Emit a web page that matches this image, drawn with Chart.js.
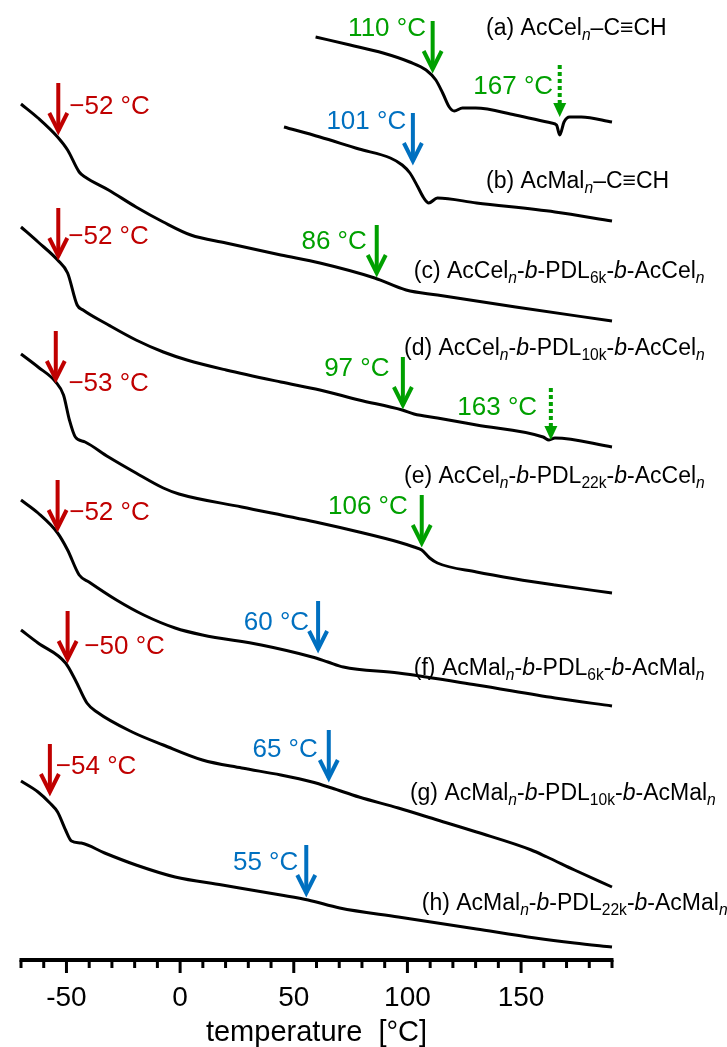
<!DOCTYPE html>
<html>
<head>
<meta charset="utf-8">
<title>DSC traces</title>
<script src="https://cdn.jsdelivr.net/npm/chart.js@4.4.1/dist/chart.umd.min.js"></script>
<style>
  html, body { margin: 0; padding: 0; background: #fff; }
  #dsc { display: block; }
</style>
</head>
<body>
<canvas id="dsc" width="727" height="1047"></canvas>
<script>
'use strict';

// ── Traces: temperature [°C] vs. heat flow (arb. units, stacked offsets) ──
const tempA = [59.6, 74.8, 89.3, 101.0, 108.2, 112.5, 115.5, 118.4, 120.6, 124.2, 130.0, 147.4, 163.4, 165.6, 167.0, 168.9, 171.4, 176.5, 190];
const heatA = [92.3, 91.5, 90.7, 89.8, 89.0, 88.0, 86.7, 85.3, 84.9, 85.2, 85.2, 84.5, 83.7, 83.5, 82.5, 83.8, 84.3, 84.3, 83.8];

const tempB = [45.7, 61.5, 78.7, 92.5, 97.7, 101.1, 104.6, 107.2, 109.4, 113.2, 130.4, 164.9, 190];
const heatB = [83.3, 82.3, 81.1, 80.2, 79.5, 78.7, 77.3, 76.2, 75.7, 76.2, 75.7, 74.8, 73.9];

const tempC = [-70, -62.5, -53.9, -49.5, -44.4, -41.8, -31.5, -19.4, -7.4, 4.7, 20.2, 44.3, 61.5, 85.6, 99.4, 113.2, 147.6, 190];
const heatC = [85.6, 84.2, 82.3, 81.0, 78.8, 78.3, 77.0, 75.3, 73.8, 72.5, 71.7, 70.5, 69.7, 68.2, 67.0, 66.5, 65.3, 63.9];

const tempD = [-70, -62.5, -53.9, -49.5, -45.3, -42.7, -31.5, -19.4, -7.4, 3.0, 20.2, 44.3, 61.5, 78.7, 97.7, 102.9, 113.2, 130.4, 159.7, 162.3, 164.9, 190];
const heatD = [73.3, 71.8, 70.0, 68.7, 65.5, 65.0, 63.5, 62.0, 60.8, 60.0, 59.0, 57.8, 57.0, 56.0, 55.0, 54.6, 54.2, 53.5, 52.3, 52.0, 52.2, 51.3];

const tempE = [-70, -62.5, -54.7, -51.3, -48.7, -46.1, -41.8, -31.5, -19.4, -7.4, -0.5, 27.1, 61.5, 78.7, 96.0, 102.9, 106.3, 109.8, 113.2, 130.4, 147.6, 164.9, 190];
const heatE = [60.6, 59.3, 57.8, 56.5, 54.0, 52.3, 51.8, 50.3, 48.7, 47.2, 46.6, 45.3, 43.7, 42.8, 41.8, 41.3, 41.0, 40.2, 39.7, 38.8, 38.1, 37.5, 36.7];

const tempF = [-70, -62.5, -53.9, -49.5, -44.4, -40.1, -28.0, -16.0, -2.2, 9.8, 35.7, 58.1, 65.0, 71.8, 96.0, 130.4, 164.9, 190];
const heatF = [46.0, 44.7, 42.7, 41.0, 38.5, 37.8, 36.0, 34.5, 33.2, 32.5, 31.5, 30.3, 29.8, 29.3, 28.7, 27.5, 26.2, 25.4];

const tempG = [-70, -62.5, -50.4, -46.1, -41.0, -36.6, -21.1, -7.4, 9.8, 27.1, 44.3, 58.1, 66.7, 78.7, 96.0, 113.2, 130.4, 154.5, 161.4, 173.5, 190];
const heatG = [33.0, 31.7, 29.7, 28.0, 25.7, 24.8, 22.8, 21.5, 20.0, 19.2, 18.5, 17.8, 17.2, 16.3, 15.2, 14.0, 12.8, 11.0, 10.3, 9.0, 7.3];

const tempH = [-70, -62.5, -57.3, -53.9, -50.4, -47.8, -43.5, -33.2, -19.4, -2.2, 18.5, 44.3, 56.3, 70.2, 96.0, 130.4, 156.2, 173.5, 190];
const heatH = [17.9, 16.8, 15.7, 14.8, 13.0, 11.9, 11.7, 10.7, 9.5, 8.3, 7.5, 6.5, 6.0, 5.2, 4.3, 3.1, 2.2, 1.7, 1.3];

// {x} = italic subscript, *x* = italic, [x] = subscript
const seriesNames = [
  '(a) AcCel{n}–C≡CH',
  '(b) AcMal{n}–C≡CH',
  '(c) AcCel{n}-*b*-PDL[6k]-*b*-AcCel{n}',
  '(d) AcCel{n}-*b*-PDL[10k]-*b*-AcCel{n}',
  '(e) AcCel{n}-*b*-PDL[22k]-*b*-AcCel{n}',
  '(f) AcMal{n}-*b*-PDL[6k]-*b*-AcMal{n}',
  '(g) AcMal{n}-*b*-PDL[10k]-*b*-AcMal{n}',
  '(h) AcMal{n}-*b*-PDL[22k]-*b*-AcMal{n}',
];

// ── Transition markers (arrow at temperature, tip on trace) ──
const markerTemps  = [-53.6, -53.6, -54.7, -53.9, -49.5, -57.3, 111.1, 167.0, 102.4, 86.5, 98.0, 163.1, 106.3, 60.7, 65.4, 55.5];
const markerTips   = [82.5, 70.0, 57.7, 42.8, 29.7, 16.4, 88.7, 84.3, 79.5, 68.3, 55.1, 52.0, 41.3, 30.7, 17.8, 6.3];
const markerTexts  = ['−52 °C', '−52 °C', '−53 °C', '−52 °C', '−50 °C', '−54 °C', '110 °C', '167 °C', '101 °C',
                      '86 °C', '97 °C', '163 °C', '106 °C', '60 °C', '65 °C', '55 °C'];
const markerKinds  = ['red', 'red', 'red', 'red', 'red', 'red', 'green', 'green', 'blue',
                      'green', 'green', 'green', 'green', 'blue', 'blue', 'blue'];
const markerDotted = [false, false, false, false, false, false, false, true, false,
                      false, false, true, false, false, false, false];

// x axis
const axisMin = -70;
const axisMax = 190;
const minorStep = 10;
const majorTicks = [-50, 0, 50, 100, 150];

// ── Layout / style ──────────────────────────
const FONT = '"Liberation Sans", Arial, Helvetica, sans-serif';
const INK = { red: '#c00000', green: '#00a000', blue: '#0070c0' };
const ARROW = { length: 52, width: 4, head: 18, half: 9 };

// label side and offset from arrow (px): [side, dx, dy from arrow top to text middle]
const markerLabelLayout = [
  ['right', 11, 24], ['right', 10, 29], ['right', 12.6, 53], ['right', 11.6, 33], ['right', 16.7, 36], ['right', 6, 23],
  ['left', -6.7, 8], ['left', -6.6, 21.7], ['left', -6.7, 8.4], ['left', -10, 16.7], ['left', -13.4, 11.7],
  ['left', -13.8, 20], ['left', -14, 11.7], ['left', -9, 21.7], ['left', -11, 20], ['left', -8, 18.3],
];
// left edge / vertical middle of the sample names, in axis units
const nameAnchors = [
  [134.6, 93.3], [134.6, 78.0], [102.8, 69.0], [98.5, 61.3],
  [98.5, 48.5], [102.8, 29.3], [101.1, 16.8], [106.3, 5.8],
];

const traces = [
  [tempA, heatA], [tempB, heatB], [tempC, heatC], [tempD, heatD],
  [tempE, heatE], [tempF, heatF], [tempG, heatG], [tempH, heatH],
];

// ── Helpers ────────────────────────────────
function drawRichText(ctx, text, left, midY, size) {
  const base = midY + size * 0.36;
  let cx = left;
  text.split(/(\{[^}]*\}|\*[^*]*\*|\[[^\]]*\])/).filter(Boolean).forEach(part => {
    const mark = part[0];
    const styled = part.length > 2 && (mark === '{' || mark === '*' || mark === '[');
    const str = styled ? part.slice(1, -1) : part;
    const italic = styled && (mark === '{' || mark === '*');
    const sub = styled && (mark === '{' || mark === '[');
    const fs = sub ? size * 0.68 : size;
    ctx.font = `${italic ? 'italic ' : ''}${fs}px ${FONT}`;
    ctx.fillText(str, cx, sub ? base + size * 0.2 : base);
    cx += ctx.measureText(str).width;
  });
}

function drawArrow(ctx, px, tip, color, dotted) {
  const top = tip - ARROW.length;
  ctx.save();
  ctx.strokeStyle = color;
  ctx.fillStyle = color;
  ctx.lineWidth = ARROW.width;
  if (dotted) {
    ctx.setLineDash([4, 3]);
    ctx.beginPath();
    ctx.moveTo(px, top);
    ctx.lineTo(px, tip - 14);
    ctx.stroke();
    ctx.setLineDash([]);
    ctx.beginPath();
    ctx.moveTo(px - 6.5, tip - 14);
    ctx.lineTo(px + 6.5, tip - 14);
    ctx.lineTo(px, tip);
    ctx.closePath();
    ctx.fill();
  } else {
    const v = tip - 4;
    ctx.lineJoin = 'miter';
    ctx.beginPath();
    ctx.moveTo(px, top);
    ctx.lineTo(px, v);
    ctx.stroke();
    ctx.beginPath();
    ctx.moveTo(px - ARROW.half, v - ARROW.head);
    ctx.lineTo(px, v);
    ctx.lineTo(px + ARROW.half, v - ARROW.head);
    ctx.stroke();
  }
  ctx.restore();
}

// ── Plugin: axis line, ticks, arrows, labels ──
const annotatePlugin = {
  id: 'annotate',
  afterDraw(chart) {
    const { ctx, chartArea, scales: { x, y } } = chart;
    const axisY = chartArea.bottom;

    // axis line and tick marks
    ctx.save();
    ctx.strokeStyle = '#000';
    ctx.lineWidth = 4;
    ctx.beginPath();
    ctx.moveTo(x.getPixelForValue(axisMin) - 1.5, axisY);
    ctx.lineTo(x.getPixelForValue(axisMax) + 1.5, axisY);
    ctx.stroke();
    ctx.lineWidth = 3;
    x.ticks.forEach(t => {
      const px = x.getPixelForValue(t.value);
      const len = majorTicks.includes(t.value) ? 13 : 8;
      ctx.beginPath();
      ctx.moveTo(px, axisY);
      ctx.lineTo(px, axisY + len);
      ctx.stroke();
    });
    ctx.restore();

    // transition arrows
    markerTemps.forEach((t, i) => {
      const px = x.getPixelForValue(t);
      const tip = y.getPixelForValue(markerTips[i]);
      const color = INK[markerKinds[i]];
      drawArrow(ctx, px, tip, color, markerDotted[i]);
      const [side, dx, dy] = markerLabelLayout[i];
      ctx.save();
      ctx.fillStyle = color;
      ctx.font = `26px ${FONT}`;
      ctx.textAlign = side === 'right' ? 'left' : 'right';
      ctx.textBaseline = 'middle';
      ctx.fillText(markerTexts[i], px + dx, tip - ARROW.length + dy);
      ctx.restore();
    });

    // sample names
    ctx.save();
    ctx.fillStyle = '#000';
    ctx.textAlign = 'left';
    ctx.textBaseline = 'alphabetic';
    seriesNames.forEach((name, i) => {
      const [t, h] = nameAnchors[i];
      drawRichText(ctx, name, x.getPixelForValue(t), y.getPixelForValue(h), 23);
    });
    ctx.restore();
  },
};

// ── Chart ──────────────────────────────────
const ctx = document.getElementById('dsc').getContext('2d');
new Chart(ctx, {
  type: 'line',
  data: {
    datasets: traces.map(([temps, heats], i) => ({
      label: seriesNames[i],
      data: temps.map((t, k) => ({ x: t, y: heats[k] })),
      borderColor: '#000',
      borderWidth: 3,
      pointRadius: 0,
      fill: false,
      cubicInterpolationMode: 'monotone',
      clip: false,
    })),
  },
  options: {
    responsive: false,
    animation: false,
    devicePixelRatio: 1,
    layout: { padding: { left: 15, right: 115, top: 0, bottom: 0 } },
    plugins: { legend: { display: false }, tooltip: { enabled: false } },
    scales: {
      x: {
        type: 'linear',
        min: axisMin,
        max: axisMax,
        grid: { display: false, drawTicks: false },
        border: { display: false },
        ticks: {
          stepSize: minorStep,
          autoSkip: false,
          maxRotation: 0,
          padding: 21,
          color: '#000',
          font: { family: FONT, size: 28, lineHeight: 1.2 },
          callback: v => (majorTicks.includes(v) ? String(v) : ''),
        },
        title: {
          display: true,
          text: 'temperature  [°C]',
          color: '#000',
          padding: 0,
          font: { family: FONT, size: 29, lineHeight: 1 },
        },
        afterFit(scale) { scale.height = 87; },
      },
      y: { type: 'linear', min: 0, max: 96, display: false },
    },
  },
  plugins: [annotatePlugin],
});
</script>
</body>
</html>
